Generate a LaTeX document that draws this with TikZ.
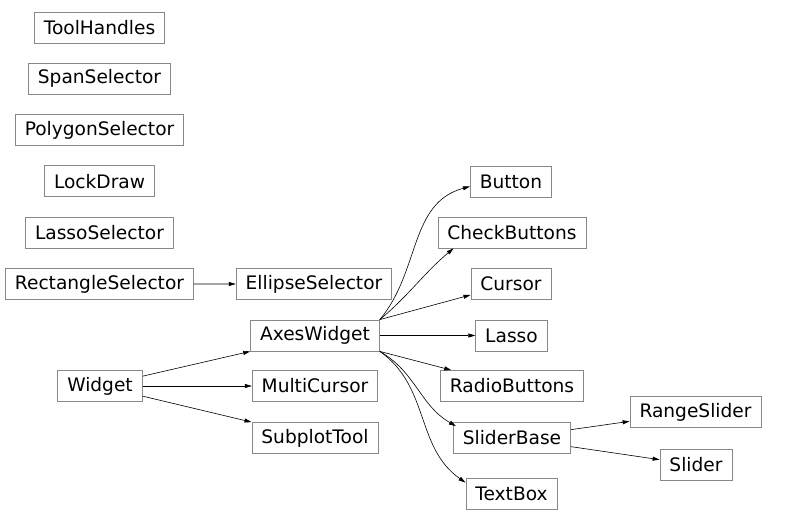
\documentclass[tikz,border=0pt]{standalone}
\usepackage{fontspec}
\setmainfont{DejaVu Sans}
\usetikzlibrary{positioning, arrows.meta}
\definecolor{boxLine}{HTML}{888888}

\begin{document}
\begin{tikzpicture}[
  x=1pt, y=-1pt,
  cls/.style={draw=boxLine, line width=0.8pt, inner xsep=9.5pt, minimum height=31pt, font=\fontsize{18.6}{22}\selectfont},
  arr/.style={-{Triangle[length=7pt, width=4pt]}, line width=0.6pt}
]
\useasboundingbox (0,0) rectangle (787,526);

% unconnected classes
\node[cls] (toolh) at (99.5,27.5) {ToolHandles};
\node[cls, below=19.5pt of toolh] (span) {SpanSelector};
\node[cls, below=19.5pt of span] (poly) {PolygonSelector};
\node[cls, below=19.5pt of poly] (lock) {LockDraw};
\node[cls, below=19.5pt of lock] (lassosel) {LassoSelector};
\node[cls, below=19.5pt of lassosel] (rect) {RectangleSelector};
\node[cls] (ellip) at (314,284) {EllipseSelector};

% widget tree
\node[cls] (widget) at (100,386) {Widget};
\node[cls] (axes) at (315,335.5) {AxesWidget};
\node[cls] (multi) at (315,386) {MultiCursor};
\node[cls] (subplot) at (315,438) {SubplotTool};

\node[cls] (button) at (511,181.5) {Button};
\node[cls] (check) at (512,232.5) {CheckButtons};
\node[cls] (cursor) at (511,284) {Cursor};
\node[cls] (lasso) at (511.5,335.5) {Lasso};
\node[cls] (radio) at (512,386) {RadioButtons};
\node[cls] (sbase) at (512,438) {SliderBase};
\node[cls] (textbox) at (511.5,493.5) {TextBox};
\node[cls] (range) at (695.5,412) {RangeSlider};
\node[cls] (slider) at (696,465) {Slider};

\draw[arr] (rect) -- (ellip);
\draw[arr] (widget) -- (axes.south west);
\draw[arr] (widget) -- (multi);
\draw[arr] (widget) -- (subplot.north west);

\draw[arr] (axes.north east) to[out=50, in=195] ([yshift=-5pt]button.west);
\draw[arr] (axes.north east) to[out=40, in=220] ([xshift=16pt]check.south west);
\draw[arr] (axes.north east) -- (cursor);
\draw[arr] (axes) -- (lasso);
\draw[arr] (axes.south east) -- (radio);
\draw[arr] (axes.south east) to[out=-30, in=150] ([xshift=3pt,yshift=-4pt]sbase.north west);
\draw[arr] (axes.south east) to[out=-35, in=145] ([yshift=-5pt]textbox.north west);

\draw[arr] (sbase) -- (range);
\draw[arr] (sbase) -- (slider);
\end{tikzpicture}
\end{document}
